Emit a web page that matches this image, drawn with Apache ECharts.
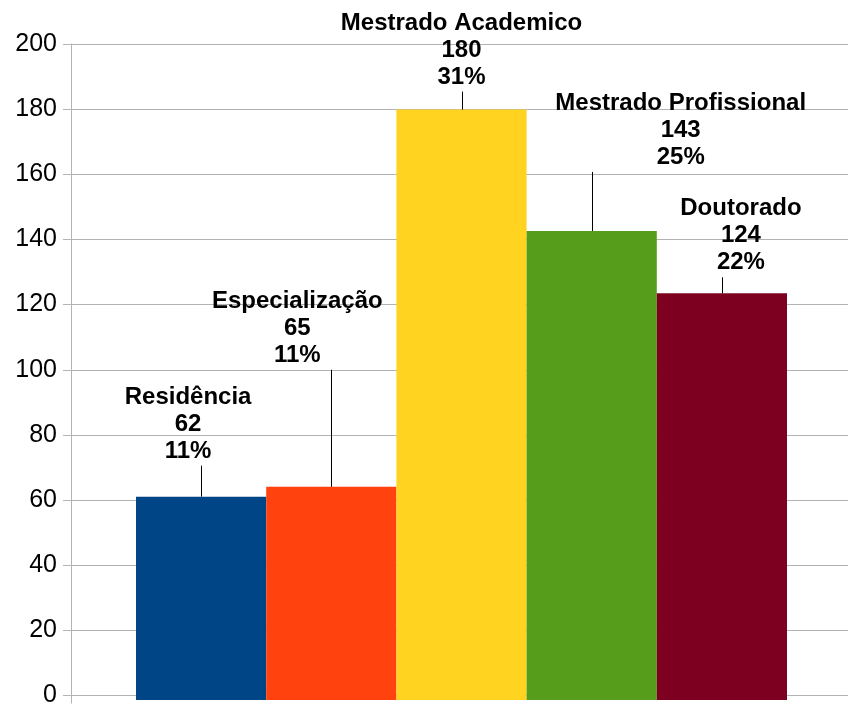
<!DOCTYPE html>
<html>
<head>
<meta charset="utf-8">
<script src="https://cdn.jsdelivr.net/npm/echarts@6/dist/echarts.min.js"></script>
<style>
html,body{margin:0;padding:0;background:#fff;}
#chart{width:848px;height:708px;}
</style>
</head>
<body>
<div id="chart"></div>
<script>
var categories = ['Residência', 'Especialização', 'Mestrado Academico', 'Mestrado Profissional', 'Doutorado'];
var values = [62, 65, 180, 143, 124];
var yTicks = [0, 20, 40, 60, 80, 100, 120, 140, 160, 180, 200];

// layout of the labels (pixels): leader line length and horizontal shift of text
var leaderLen = [31, 117, 18, 59, 16];
var labelShift = [-13, -34, 0, 89, 19];
var colors = ['#004586', '#ff420e', '#ffd320', '#579d1c', '#7e0021'];

var total = values.reduce(function (a, b) { return a + b; }, 0);

var chart = echarts.init(document.getElementById('chart'));
var font = '"Liberation Sans", Arial, sans-serif';

chart.setOption({
  animation: false,
  backgroundColor: '#fff',
  grid: [
    {left: 71, right: 0, top: 44, bottom: 8},
    {left: 136, right: 61, top: 44, bottom: 8}
  ],
  xAxis: [
    {gridIndex: 0, type: 'value', min: 0, max: 1, interval: 1,
     axisLine: {show: true, lineStyle: {color: '#b3b3b3', width: 1}},
     axisTick: {show: true, length: 8, lineStyle: {color: '#b3b3b3'}},
     axisLabel: {show: false}, splitLine: {show: false}},
    {gridIndex: 1, type: 'category', data: categories,
     axisLine: {show: false}, axisTick: {show: false}, axisLabel: {show: false}}
  ],
  yAxis: [
    {gridIndex: 0, type: 'value', min: yTicks[0], max: yTicks[yTicks.length - 1], interval: 20,
     axisLine: {show: true, lineStyle: {color: '#b3b3b3', width: 1}},
     axisTick: {show: true, length: 8, lineStyle: {color: '#b3b3b3'}},
     axisLabel: {color: '#000', fontSize: 25, fontFamily: font, margin: 14},
     splitLine: {show: true, lineStyle: {color: '#b3b3b3', width: 1}}},
    {gridIndex: 1, type: 'value', min: yTicks[0], max: yTicks[yTicks.length - 1], interval: 20,
     show: false, splitLine: {show: false}}
  ],
  series: [
    {
      type: 'bar', xAxisIndex: 1, yAxisIndex: 1,
      barCategoryGap: '0%',
      data: values.map(function (v, i) {
        return {value: v, itemStyle: {color: colors[i]}};
      })
    },
    {
      type: 'custom', xAxisIndex: 1, yAxisIndex: 1, z: 5,
      data: values.map(function (v, i) { return [i, v]; }),
      renderItem: function (params, api) {
        var i = params.dataIndex;
        var p = api.coord([api.value(0), api.value(1)]);
        var x = Math.round(p[0]) + 0.5;
        var yTop = p[1] - leaderLen[i];
        var pct = Math.round(values[i] / total * 100) + '%';
        return {
          type: 'group',
          children: [
            {type: 'line', shape: {x1: x, y1: p[1], x2: x, y2: yTop},
             style: {stroke: '#000', lineWidth: 1}},
            {type: 'text', x: p[0] + labelShift[i], y: yTop - 1,
             style: {text: categories[i] + '\n' + values[i] + '\n' + pct,
                     fill: '#000', font: 'bold 24px ' + font,
                     align: 'center', verticalAlign: 'bottom', lineHeight: 27}}
          ]
        };
      }
    }
  ]
});
</script>
</body>
</html>
